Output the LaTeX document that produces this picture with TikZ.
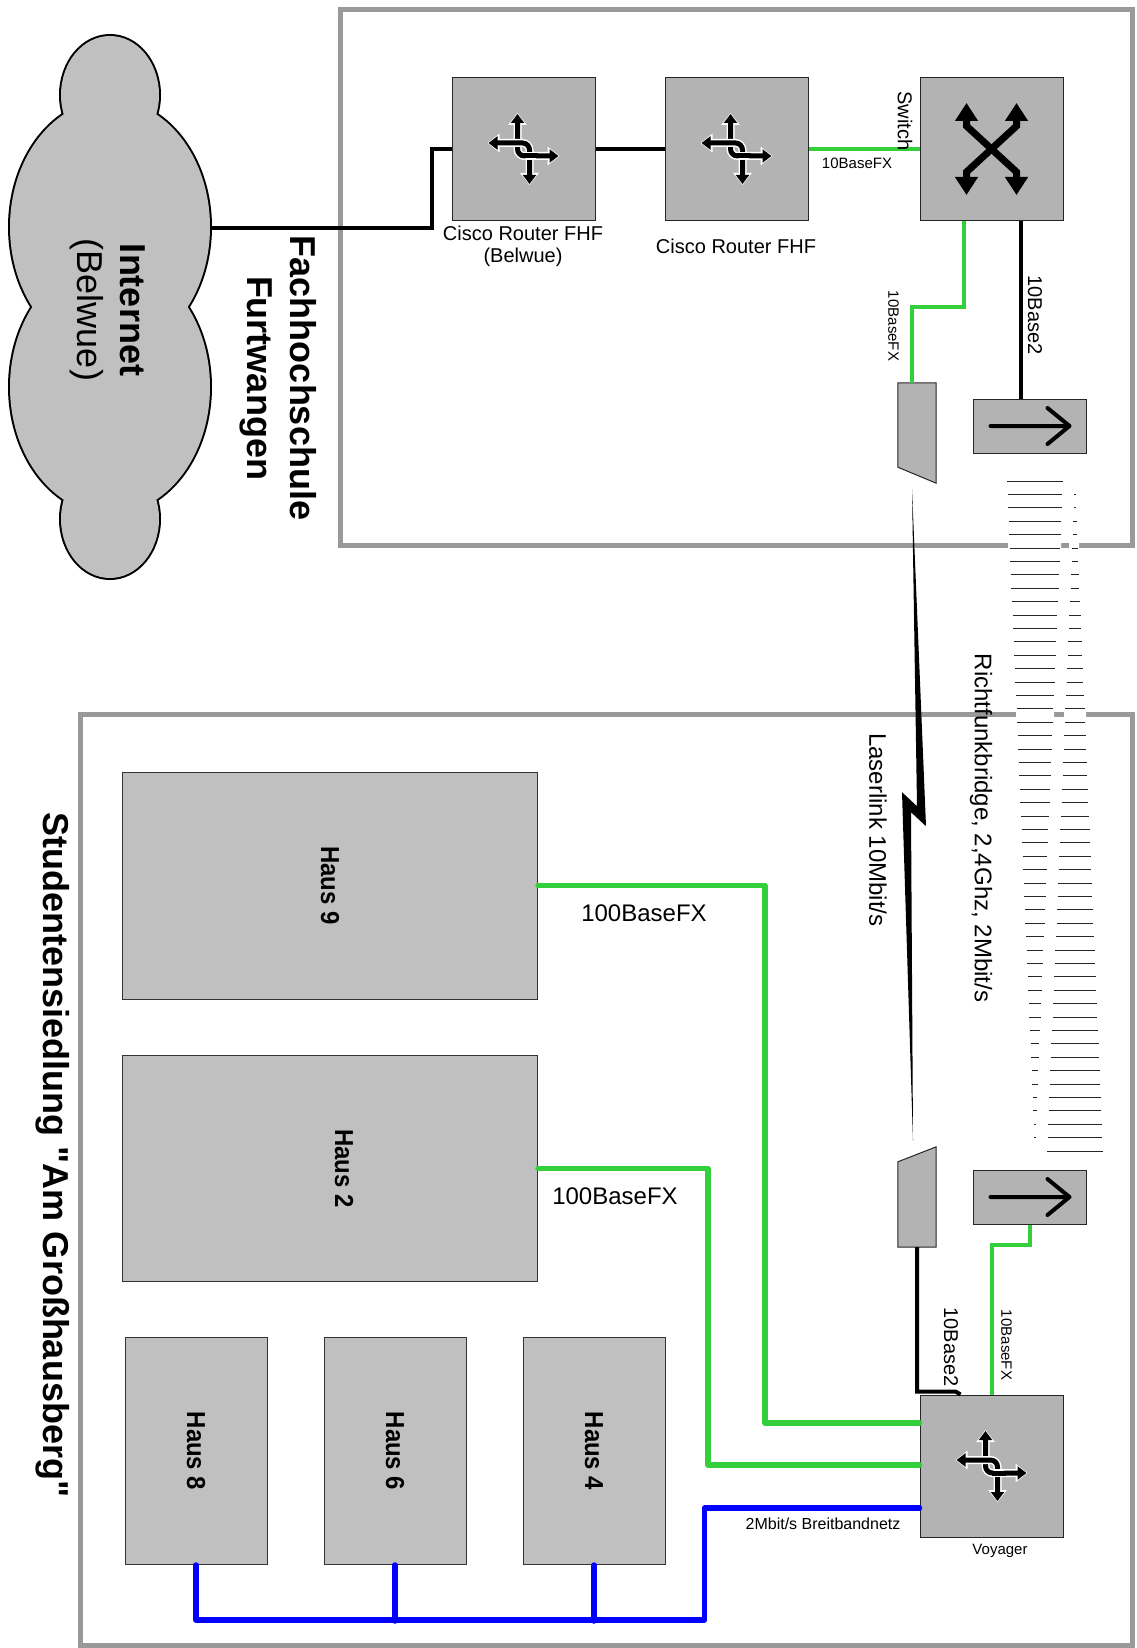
\documentclass[tikz,border=0pt]{standalone}
\usepackage{fontspec}
\setmainfont{Liberation Sans}[Ligatures=TeXOff]
\newfontfamily\narrowfont[FakeStretch=0.92,Ligatures=TeXOff]{Liberation Sans}
\usetikzlibrary{arrows.meta,calc}
\definecolor{framegray}{RGB}{153,153,153}
\definecolor{devgray}{RGB}{179,179,179}
\definecolor{housegray}{RGB}{192,192,192}
\definecolor{lgreen}{RGB}{51,208,60}
\definecolor{lblue}{RGB}{0,0,255}
\tikzset{
  frame/.style={draw=framegray, line width=5pt},
  device/.style={draw=black!85, line width=1pt, fill=devgray, minimum width=143pt, minimum height=142pt, inner sep=0pt},
  radiobox/.style={device, minimum width=113pt, minimum height=54pt},
  trapbox/.style={minimum width=38pt, minimum height=100pt, inner sep=0pt},
  trapshape/.style={fill=devgray, draw=black!85, line width=1pt},
  house/.style={draw=black!80, line width=1pt, fill=housegray, inner sep=0pt},
  hlabel/.style={inner sep=0pt, rotate=-90, font=\narrowfont\fontsize{26}{30}\selectfont\bfseries},
  link/.style={line width=4pt},
  glink/.style={draw=lgreen, line width=4pt},
  hlink/.style={draw=lgreen, line width=5.5pt, line cap=round, line join=round},
  blink/.style={draw=lblue, line width=5.5pt, line cap=round, line join=round},
  beam/.style={draw=black!85, line width=1pt},
  tf/.style={inner sep=0pt, font=\fontsize{15}{18}\selectfont},
  tsix/.style={inner sep=0pt, font=\fontsize{16}{19}\selectfont},
  ttw/.style={inner sep=0pt, font=\fontsize{20}{22}\selectfont},
  tfour/.style={inner sep=0pt, font=\fontsize{24}{28}\selectfont},
  bigtitle/.style={inner sep=0pt, align=center, font=\fontsize{36}{43}\selectfont\bfseries},
  routersym/.pic={
    \draw[white, line width=8pt, rounded corners=7pt, {Triangle[width=18pt,length=12pt]}-{Triangle[width=18pt,length=12pt]}] (-6,-36) -- (-6,7) -- (36,7);
    \draw[black, line width=5pt, rounded corners=7pt, {Triangle[width=13pt,length=9pt]}-{Triangle[width=13pt,length=9pt]}] (-6,-35) -- (-6,7) -- (35,7);
    \draw[white, line width=8pt, rounded corners=7pt, {Triangle[width=18pt,length=12pt]}-{Triangle[width=18pt,length=12pt]}] (-36,-6) -- (6,-6) -- (6,36);
    \draw[black, line width=5pt, rounded corners=7pt, {Triangle[width=13pt,length=9pt]}-{Triangle[width=13pt,length=9pt]}] (-35,-6) -- (6,-6) -- (6,35);
    \draw[white, line width=8pt] (2,7) -- (12,7);
    \draw[black, line width=5pt] (0,7) -- (14,7);
  },
  switchsym/.pic={
    \foreach \sx/\sy in {-1/-1,1/-1,-1/1,1/1}{
      \draw[black, line width=7pt, -{Triangle[width=22pt,length=18pt]}] (0,0) -- (25*\sx,23*\sy) -- (25*\sx,46*\sy);
    }
  },
  radiosym/.pic={
    \draw[black, line width=4pt, line cap=round, line join=round] (-39,0) -- (40,0) (18,-18) -- (40,0) -- (18,18);
  }
}
\begin{document}
\begin{tikzpicture}[x=1pt,y=-1pt]
\useasboundingbox (0,0) rectangle (1136,1648);

% frames
\draw[frame] (340,10) rectangle (1132,545);
\draw[frame] (80,714) rectangle (1132,1645);

% gaps of the radio beam in the frames
\fill[white] (1008,541) rectangle (1061,550) (1069,541) rectangle (1079,550);
\fill[white] (1016,710) rectangle (1054,719) (1064,710) rectangle (1086,719);

% radio beam
\foreach \i in {0,...,50}{
  \pgfmathsetmacro\yy{481+13.4*\i}
  \pgfmathsetmacro\wl{28*(1-\i/50)}
  \pgfmathsetmacro\wr{28*\i/50}
  \draw[beam] (1035-\wl,\yy) -- (1035+\wl,\yy);
  \draw[beam] (1075-\wr,\yy) -- (1075+\wr,\yy);
}

% cloud
\draw[line width=4pt] (110,95) ellipse [x radius=49, y radius=59]
  (110,227) ellipse [x radius=100, y radius=127]
  (110,387) ellipse [x radius=100, y radius=127]
  (110,519) ellipse [x radius=49, y radius=59];
\fill[housegray] (110,95) ellipse [x radius=49, y radius=59]
  (110,227) ellipse [x radius=100, y radius=127]
  (110,387) ellipse [x radius=100, y radius=127]
  (110,519) ellipse [x radius=49, y radius=59];
\node[inner sep=0pt, rotate=-90, align=center, font=\fontsize{36}{43}\selectfont] (inet) at (108,310) {{\bfseries Internet}\\(Belwue)};
\coordinate (cloudE) at (210,228);

% titles
\node[bigtitle, rotate=-90] (tfh) at (278,378) {Fachhochschule\\Furtwangen};
\node[bigtitle, rotate=-90] (tst) at (53,1155) {Studentensiedlung "Am Großhausberg"};

% devices
\node[device] (r1) at (523.5,149) {};
\node[device] (r2) at (736.5,149) {};
\node[device] (sw) at (991.5,149) {};
\node[device] (voy) at (991.5,1466) {};
\pic at (r1.center) {routersym};
\pic at (r2.center) {routersym};
\pic at (voy.center) {routersym};
\pic at (sw.center) {switchsym};

\node[radiobox] (radT) at (1029.5,426) {};
\node[radiobox] (radB) at (1029.5,1197) {};
\pic at (radT.center) {radiosym};
\pic at (radB.center) {radiosym};

\node[trapbox] (lasT) at (917,433) {};
\filldraw[trapshape] (lasT.north west) -- (lasT.north east) -- (lasT.south east) -- ([yshift=16pt]lasT.south west) -- cycle;
\node[trapbox] (lasB) at (917,1197) {};
\filldraw[trapshape] (lasB.south west) -- (lasB.south east) -- (lasB.north east) -- ([yshift=-15pt]lasB.north west) -- cycle;

% houses
\node[house, minimum width=415pt, minimum height=227pt] (h9) at (330,885.5) {};
\node[house, minimum width=415pt, minimum height=226pt] (h2) at (330,1168.5) {};
\node[house, minimum width=142pt, minimum height=227pt] (h8) at (196,1451) {};
\node[house, minimum width=142pt, minimum height=227pt] (h6) at (395,1451) {};
\node[house, minimum width=142pt, minimum height=227pt] (h4) at (594,1451) {};
\node[hlabel] (th9) at (h9.center) {Haus 9};
\node[hlabel] (th2) at ([xshift=14pt]h2.center) {Haus 2};
\node[hlabel] (th8) at (h8.center) {Haus 8};
\node[hlabel] (th6) at (h6.center) {Haus 6};
\node[hlabel] (th4) at (h4.center) {Haus 4};

% connections
\draw[link] (cloudE) -- ++(222,0) |- (r1.west);
\draw[link] (r1) -- (r2);
\draw[glink] (r2) -- (sw);
\draw[glink] ([xshift=-27.5pt]sw.south) -- ++(0,86) -| ([xshift=-5pt]lasT.north);
\draw[link] ([xshift=29.5pt]sw.south) -- ([xshift=29.5pt]sw.south |- radT.north);
\draw[glink] (radB.south) -- ++(0,20) -| (voy.north);
\draw[link] (lasB.south) |- ([xshift=-36pt,yshift=3pt]voy.north) -- ([xshift=-31pt]voy.north);
\fill ($(lasT.south)+(-5,6)$) -- ($(lasT.south)+(9,343)$) -- ($(lasT.south)+(-6,329)$)
  -- ($(lasB.north)+(-4,-6)$) -- ($(lasT.south)+(-15,309)$) -- ($(lasT.south)+(0,323)$) -- cycle;
\draw[hlink] (h9.east) -- ++(227,0) |- ([yshift=43pt]voy.west);
\draw[hlink] (h2.east) -- ++(170,0) |- ([yshift=1pt]voy.west);
\draw[blink] ([yshift=-42pt]voy.west) -- ++(-215,0) -- ++(0,112) -| (h8.south);
\draw[blink] (h6.south) -- ++(0,56);
\draw[blink] (h4.south) -- ++(0,56);

% labels
\node[ttw, align=center] (lr1) at (523,246) {Cisco Router FHF\\(Belwue)};
\node[ttw] (lr2) at (736,246) {Cisco Router FHF};
\node[tf] (lfx1) at (857,163) {10BaseFX};
\node[ttw, rotate=-90] (lsw) at (905,121) {Switch};
\node[tf, rotate=-90] (lfx2) at (893.5,326) {10BaseFX};
\node[ttw, rotate=-90] (lb2a) at (1035,315) {10Base2};
\node[ttw, rotate=-90] (lb2b) at (951,1347) {10Base2};
\node[tf, rotate=-90] (lfx3) at (1006.5,1345) {10BaseFX};
\node[tfour, rotate=-90] (llaser) at (878,830) {Laserlink 10Mbit/s};
\node[tfour, rotate=-90] (lricht) at (981,828) {Richtfunkbridge, 2,4Ghz, 2Mbit/s};
\node[tfour] (l100a) at (644,913) {100BaseFX};
\node[tfour] (l100b) at (615,1196) {100BaseFX};
\node[tsix] (lbreit) at (823,1524) {2Mbit/s Breitbandnetz};
\node[tf] (lvoy) at (1000,1551) {Voyager};
\end{tikzpicture}
\end{document}
